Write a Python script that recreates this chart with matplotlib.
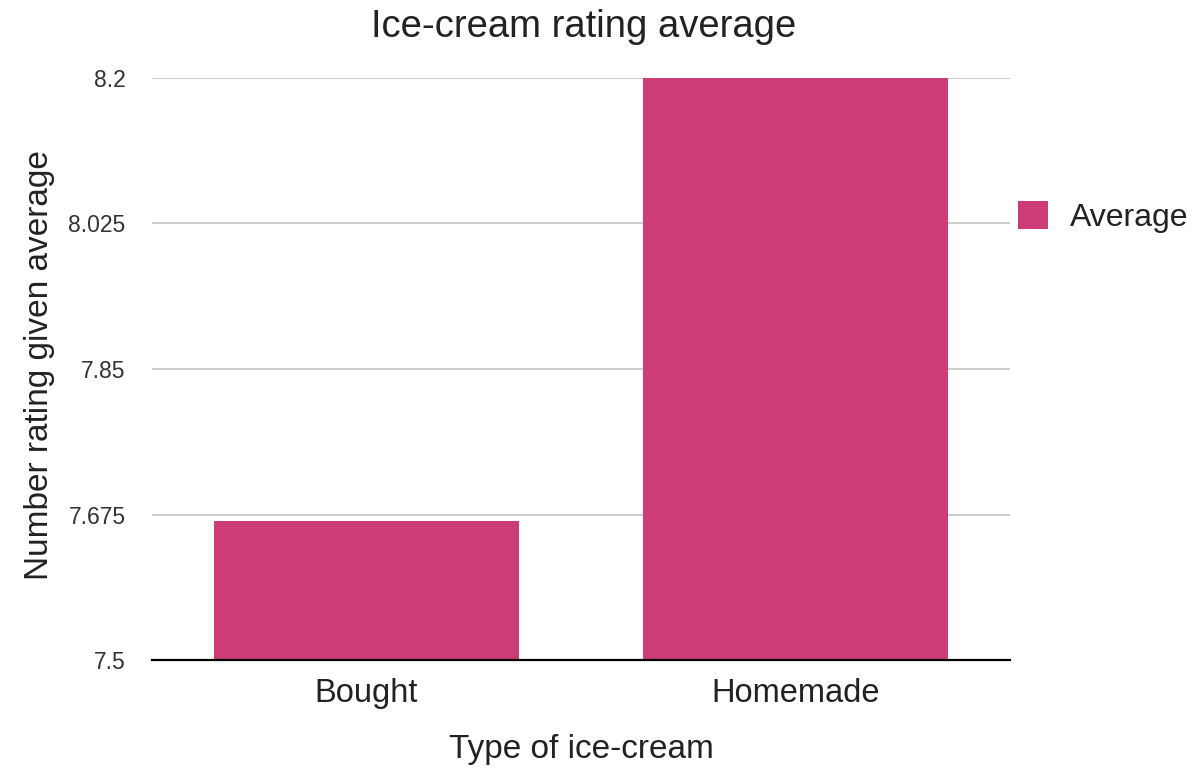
import matplotlib
matplotlib.use('Agg')
import matplotlib.pyplot as plt
import numpy as np

plt.rcParams['font.family'] = ['Liberation Sans', 'DejaVu Sans']

# data
categories = ['Bought', 'Homemade']
averages = [7.667, 8.2]
yticks = [7.5, 7.675, 7.85, 8.025, 8.2]
ytick_labels = ['7.5', '7.675', '7.85', '8.025', '8.2']

bar_color = '#cc3d77'

fig = plt.figure(figsize=(11.95, 7.68), dpi=100)
ax = fig.add_axes([152/1195, 1-660/768, (1010-152)/1195, (660-78)/768])

x = np.arange(len(categories))
ax.bar(x, averages, width=0.713, color=bar_color, zorder=3, label='Average')

ax.set_xlim(-0.5, len(categories) - 0.5)
ax.set_ylim(yticks[0], yticks[-1])
ax.set_yticks(yticks)
ax.set_yticklabels(ytick_labels)
ax.set_xticks(x)
ax.set_xticklabels(categories)

ax.tick_params(axis='y', length=0, pad=19, labelsize=16.5, labelcolor='#333333')
ax.tick_params(axis='x', length=0, pad=13, labelsize=23.5, labelcolor='#222222')

ax.yaxis.grid(True, color='#c8c8c8', linewidth=1.3, zorder=0)
ax.set_axisbelow(True)
for s in ['top', 'right', 'left']:
    ax.spines[s].set_visible(False)
ax.spines['bottom'].set_color('black')
ax.spines['bottom'].set_linewidth(1.6)
ax.spines['bottom'].set_zorder(4)

# titles
fig.text(584/1195, 1-37/768, 'Ice-cream rating average', ha='center', va='baseline',
         fontsize=27.5, color='#222222')
fig.text(581/1195, 1-758/768, 'Type of ice-cream', ha='center', va='baseline',
         fontsize=24, color='#222222')
fig.text(40/1195, 1-365/768, 'Number rating given average', ha='center', va='center',
         rotation=90, fontsize=24, color='#222222')

# legend
ax.legend(loc='center left', bbox_to_anchor=(1018/1195, 1-217/768),
          bbox_transform=fig.transFigure, frameon=False, fontsize=23,
          handlelength=0.95, handleheight=0.95, handletextpad=0.69,
          borderpad=0, borderaxespad=0, labelcolor='#222222')

plt.savefig('out.png', dpi=100)
